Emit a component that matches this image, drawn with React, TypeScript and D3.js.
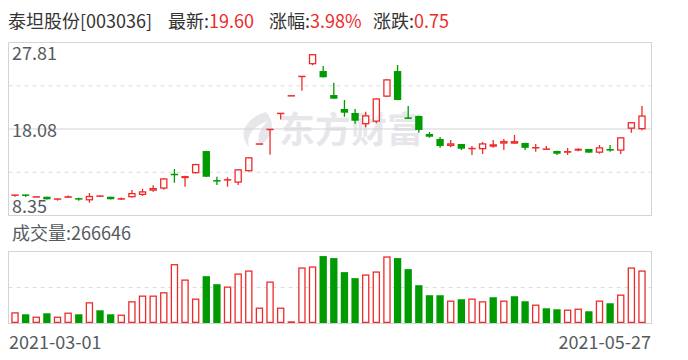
import React from "react";
import * as d3 from "d3";

// ---- data ----
const stockName = "泰坦股份[003036]";
const latestPrice = "19.60";
const changePct = "3.98%";
const changeAmt = "0.75";
const volumeLabel = "266646";
const yTickLabels = ["27.81", "18.08", "8.35"];
const priceMin = 8.35;
const priceMax = 27.81;
const xTickLabels = ["2021-03-01", "2021-05-27"];

const opens = [10.48, 10.64, 10.42, 10.46, 10.04, 10.34, 10.22, 10.05, 10.51, 10.46, 10.13, 10.40, 10.66, 11.14, 11.37, 12.96, 12.55, 13.10, 15.60, 12.25,
  12.30, 12.04, 13.32, 16.39, 18.03, 19.83, 21.81, 23.99, 25.36, 24.60, 21.90, 20.33, 19.88, 18.61, 18.90, 21.71, 24.60, 19.30, 19.54, 17.52,
  16.96, 16.17, 16.39, 15.80, 15.80, 16.09, 16.43, 16.43, 16.51, 15.92, 15.79, 15.61, 15.41, 15.64, 15.83, 15.41, 15.83, 15.64, 18.11, 18.05];
const highs = [10.66, 10.68, 10.46, 10.47, 10.21, 10.60, 10.35, 10.88, 10.62, 10.47, 10.38, 11.22, 11.34, 11.75, 12.55, 13.58, 12.82, 14.16, 15.62, 12.71,
  12.65, 13.56, 14.92, 16.39, 18.03, 19.83, 21.81, 23.99, 26.50, 25.17, 23.29, 21.34, 20.33, 20.03, 21.55, 23.69, 25.28, 20.67, 19.56, 17.74,
  17.18, 16.84, 16.40, 16.17, 16.62, 16.84, 16.96, 17.41, 16.52, 16.39, 16.17, 15.62, 15.94, 15.92, 15.84, 16.28, 16.28, 17.16, 18.86, 20.67];
const lows = [10.46, 10.44, 10.40, 10.15, 10.02, 10.32, 10.01, 9.78, 10.46, 10.16, 10.08, 10.38, 10.54, 11.03, 11.25, 12.04, 11.59, 13.08, 12.69, 11.78,
  11.59, 11.78, 13.30, 16.39, 15.19, 19.15, 21.81, 22.39, 25.25, 23.88, 21.47, 19.46, 18.68, 18.27, 18.72, 21.69, 21.32, 19.20, 17.66, 17.10,
  15.98, 16.02, 15.72, 15.16, 15.27, 15.98, 15.72, 16.42, 15.72, 15.53, 15.79, 15.16, 15.16, 15.58, 15.40, 15.30, 15.53, 15.27, 17.66, 17.93];
const closes = [10.64, 10.48, 10.44, 10.17, 10.20, 10.52, 10.20, 10.55, 10.53, 10.18, 10.30, 10.88, 11.07, 11.44, 12.53, 12.92, 12.79, 14.14, 12.71, 12.20,
  12.36, 13.55, 14.90, 16.39, 18.03, 19.83, 21.81, 23.99, 26.50, 23.90, 21.49, 19.91, 19.01, 19.62, 21.53, 23.67, 21.34, 19.21, 17.97, 17.21,
  16.17, 16.47, 15.86, 15.88, 16.47, 16.36, 16.73, 16.72, 15.96, 15.97, 15.81, 15.30, 15.60, 15.86, 15.42, 16.02, 15.65, 17.15, 18.85, 19.60];
const volumes = [54300, 44200, 32300, 49300, 32300, 52700, 44200, 105300, 64500, 44200, 42500, 110400, 139300, 139300, 156300, 298900, 220800, 124000, 237800, 197000,
  185100, 251400, 266600, 78100, 210600, 78100, 8500, 281900, 287000, 339700, 329500, 258200, 227600, 246300, 261600, 338000, 329500, 273400, 191900, 141000,
  141000, 113800, 120600, 124000, 110400, 130800, 113800, 135900, 110400, 93400, 74700, 69600, 67900, 73000, 59400, 113800, 100200, 144400, 281900, 266646];
const volumeUp = [1, 0, 1, 0, 1, 1, 0, 1, 0, 0, 1, 1, 1, 1, 1, 1, 1, 1, 0, 0,
  1, 1, 1, 1, 1, 1, 1, 1, 1, 0, 0, 0, 0, 1, 1, 1, 0, 0, 0, 0,
  0, 1, 0, 1, 1, 0, 1, 0, 0, 1, 0, 0, 1, 1, 0, 1, 0, 1, 1, 1];
const volumeMax = 363000;

// ---- styles ----
const W = 688, H = 360;
const RED = "#ee2b2b";
const GREEN = "#009b00";
const FRAME = "#d3d3da";
const GRID = "#dcdcdc";
const LABEL = "#555a60";
const FONT = "'Microsoft YaHei', 'Noto Sans CJK SC', 'Noto Sans', sans-serif";

const left = 8.5, right = 651.5;
const pTop = 42.5, pBot = 215.5;
const vTop = 251.5, vBot = 323.5;

export default function App() {
  const idx = d3.range(opens.length);
  const x = d3.scaleBand<number>().domain(idx).range([9.7, 647.3]).padding(0);
  const bw = x.bandwidth() * 0.69;
  const cx = (i: number) => (x(i) as number) + x.bandwidth() / 2;
  const y = d3.scaleLinear().domain([priceMin, priceMax]).range([pBot, pTop]);
  const yv = d3.scaleLinear().domain([0, volumeMax]).range([323, vTop]);

  const pGrid = d3.range(1, 4).map((k) => pTop + ((pBot - pTop) * k) / 4);

  return (
    <svg width={W} height={H} style={{ position: "absolute", left: 0, top: 0, background: "#fff" }} fontFamily={FONT}>
      {/* header */}
      <text x={8} y={28} fontSize={18} fill="#333">
        <tspan>{stockName}</tspan>
        <tspan x={168}>最新:</tspan>
        <tspan fill={RED}>{latestPrice}</tspan>
        <tspan x={269}>涨幅:</tspan>
        <tspan fill={RED}>{changePct}</tspan>
        <tspan x={373}>涨跌:</tspan>
        <tspan fill={RED}>{changeAmt}</tspan>
      </text>

      {/* watermark */}
      <g fill="#e7e7eb">
        <path d="M 266 112 C 248 117, 236 133, 249 147 C 246 136, 253 126, 268 121 C 260 128, 256 137, 260 146 C 273 137, 276 122, 266 112 Z" />
        <text x={279} y={143} fontSize={36} fontWeight="bold">东方财富</text>
      </g>

      {/* price panel frame & grid */}
      {pGrid.map((gy, k) => (
        <line key={k} x1={left} x2={right} y1={gy} y2={gy} stroke={k === 1 ? FRAME : GRID}
          strokeDasharray={k === 1 ? undefined : "4,4"} strokeWidth={1} />
      ))}
      <rect x={left} y={pTop} width={right - left} height={pBot - pTop} fill="none" stroke={FRAME} strokeWidth={1} />

      {/* candles */}
      {idx.map((i) => {
        const o = opens[i], c = closes[i], h = highs[i], l = lows[i];
        const up = c >= o;
        const col = up ? RED : GREEN;
        const yTop = y(Math.max(o, c));
        const yBot = y(Math.min(o, c));
        const bh = yBot - yTop;
        const xc = cx(i);
        const solid = !up || bh < 2.2;
        return (
          <g key={i}>
            <line x1={xc} x2={xc} y1={y(h)} y2={y(l)} stroke={col} strokeWidth={1.3} />
            {solid ? (
              <rect x={xc - bw / 2} y={bh < 1.5 ? yTop - 0.75 : yTop} width={bw} height={Math.max(bh, 1.5)} fill={col} />
            ) : (
              <rect x={xc - bw / 2 + 0.6} y={yTop + 0.6} width={bw - 1.2} height={bh - 1.2} fill="#fff" stroke={col} strokeWidth={1.3} />
            )}
          </g>
        );
      })}

      {/* price labels */}
      <g fontSize={18} fill={LABEL}>
        <text x={12} y={60}>{yTickLabels[0]}</text>
        <text x={12} y={137}>{yTickLabels[1]}</text>
        <text x={12} y={213}>{yTickLabels[2]}</text>
      </g>

      {/* volume */}
      <text x={12} y={239.5} fontSize={18} fill={LABEL}>成交量:{volumeLabel}</text>
      <line x1={left} x2={right} y1={(vTop + vBot) / 2} y2={(vTop + vBot) / 2} stroke={GRID} strokeDasharray="4,4" />
      <rect x={left} y={vTop} width={right - left} height={vBot - vTop} fill="none" stroke={FRAME} strokeWidth={1} />
      {idx.map((i) => {
        const up = volumeUp[i] === 1;
        const col = up ? RED : GREEN;
        const yt = yv(volumes[i]);
        const bh = yv(0) - yt;
        const xc = cx(i);
        return up && bh > 2.5 ? (
          <rect key={i} x={xc - bw / 2 + 0.6} y={yt + 0.6} width={bw - 1.2} height={bh - 1.2} fill="#fff" stroke={col} strokeWidth={1.3} />
        ) : (
          <rect key={i} x={xc - bw / 2} y={yt} width={bw} height={bh} fill={col} />
        );
      })}

      {/* x labels */}
      <g fontSize={18} fill={LABEL}>
        <text x={9} y={349}>{xTickLabels[0]}</text>
        <text x={651} y={348.5} textAnchor="end">{xTickLabels[1]}</text>
      </g>
    </svg>
  );
}
